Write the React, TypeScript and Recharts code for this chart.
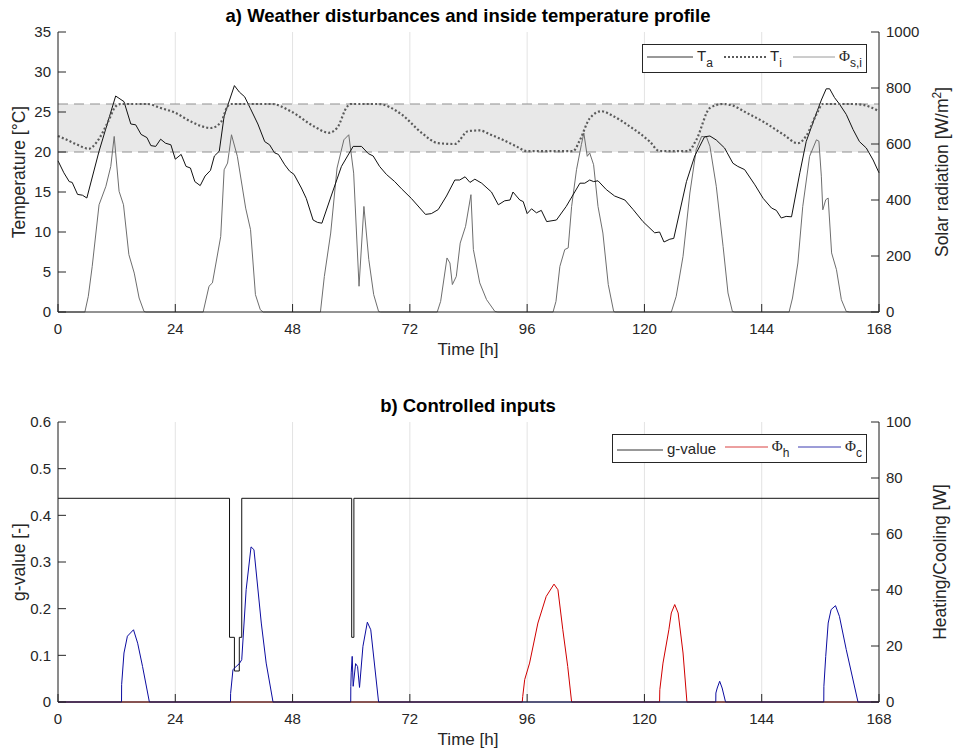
import React from "react";
import { ComposedChart, Line, XAxis, YAxis, CartesianGrid, ReferenceArea, ReferenceLine } from "recharts";

// time axis
const hourTicks = [0, 24, 48, 72, 96, 120, 144, 168];

// a) ambient temperature T_a
const taHours = [0, 1.2, 2.3, 2.9, 4, 5, 5.9, 8.4, 11.8, 13.5, 14.9, 15.9, 17, 18.2, 19, 20, 21, 22, 23.1, 24, 25.2, 26.2, 27.1, 28, 29.1, 30.1, 31.2, 32, 33, 34, 36.1, 37.1, 38.2, 39.4, 40.9, 42.3, 43.3, 44.3, 45.1, 46.4, 47.4, 48.3, 49.8, 50.8, 52.2, 53.1, 54, 55.9, 58, 60.4, 62.1, 63.5, 64.5, 65.8, 67.2, 68.9, 70.3, 72.3, 75.2, 76.4, 77.8, 79.5, 81.2, 82.2, 83.3, 84.3, 85.3, 86.7, 88.7, 90.1, 91.4, 92.5, 93.1, 94.5, 95.2, 96, 96.9, 97.9, 98.9, 100, 102, 104, 106.8, 107.8, 108.8, 109.6, 110.5, 112.2, 113.9, 116, 117.7, 119.7, 122.1, 123.1, 124, 125.2, 126, 128.6, 130.3, 132.3, 133.4, 134.7, 136.4, 138.1, 139.1, 140.5, 142.6, 144.3, 146, 147, 148, 149, 150.1, 151.8, 153.1, 154.8, 156.2, 157.2, 157.9, 158.9, 159.9, 161.3, 162.7, 164, 165.4, 166.8, 168];
const taTemp = [18.9, 17.4, 16.3, 16.2, 14.7, 14.6, 14.25, 20.1, 27.0, 26.3, 23.5, 23.4, 22.2, 21.8, 20.8, 20.7, 21.6, 21.1, 20.9, 19.1, 19.7, 18.2, 18.0, 16.3, 15.8, 17.0, 17.7, 19.5, 20.1, 24.5, 28.3, 27.5, 26.9, 25.4, 23.5, 21.3, 20.9, 19.9, 19.7, 18.4, 17.6, 17.2, 15.5, 14.2, 11.5, 11.2, 11.1, 14.5, 18.2, 20.7, 20.7, 19.8, 19.5, 18.2, 17.2, 16.3, 15.4, 14.2, 12.2, 12.3, 12.8, 14.5, 16.5, 16.5, 16.9, 16.2, 16.6, 16.1, 15.0, 13.4, 13.9, 14.0, 15.0, 14.0, 13.8, 12.3, 12.9, 12.4, 12.7, 11.3, 11.5, 13.2, 16.1, 16.1, 16.5, 16.3, 16.4, 15.3, 14.5, 14.0, 12.8, 11.3, 9.9, 10.0, 8.75, 9.1, 9.2, 16.3, 19.5, 21.9, 22.0, 21.5, 20.5, 18.6, 18.2, 17.8, 15.9, 14.2, 13.0, 12.7, 11.75, 11.95, 11.9, 17.4, 21.3, 24.2, 26.5, 27.9, 27.9, 26.8, 26.0, 24.7, 22.8, 21.3, 20.5, 19.0, 17.4];

// inside temperature T_i
const tiHours = [0, 1.9, 4, 6.3, 8, 10.1, 11.8, 12.8, 18.3, 21, 24, 27.2, 31.3, 33.4, 34.7, 35.4, 43.8, 47.6, 52.4, 55.4, 57.1, 59.2, 59.9, 65.5, 70.3, 74.4, 77.8, 81.2, 83.9, 86.3, 88.4, 91.1, 93.8, 96, 105.4, 106.8, 108.8, 111.2, 113.6, 117, 121.1, 123.1, 128.9, 130.6, 133.4, 136.1, 138.1, 140.9, 144.3, 148.4, 151.4, 153.1, 155.2, 156.5, 162.7, 164.7, 168];
const tiTemp = [22.0, 21.5, 20.9, 20.4, 21.3, 23.6, 25.7, 26, 26, 25.5, 24.9, 23.8, 23.0, 23.8, 25.7, 26, 26, 25.1, 23.2, 22.4, 23.0, 25.7, 26, 26, 24.7, 22.4, 21.1, 21.0, 22.6, 22.7, 22.2, 21.5, 20.7, 20.1, 20.1, 21.5, 24.2, 25.1, 24.5, 23.2, 21.3, 20.1, 20.1, 21.5, 25.5, 26, 25.8, 24.9, 23.8, 22.2, 21.1, 22.0, 24.7, 26, 26, 25.9, 25.1];

// solar radiation Phi_s,i [W/m2]
const solarHours = [0, 5.5, 6.2, 7, 8.4, 9.8, 10.8, 11.5, 12.5, 13.4, 14.5, 15.6, 16.6, 17.6, 18, 29.7, 30.9, 31.6, 33.3, 34, 34.7, 35.5, 36.7, 38.4, 39.4, 40.4, 41.4, 42, 53.7, 54.5, 55.8, 57.1, 58.5, 59.5, 60.5, 61.6, 62.6, 63.6, 64.6, 65.6, 66, 77.6, 78.3, 79.6, 80.2, 80.7, 81.5, 82.3, 83.4, 84.5, 85, 86.3, 87.7, 89.4, 90, 101.3, 101.9, 102.7, 103.7, 104.4, 105.1, 106.1, 107.1, 107.6, 108.3, 108.8, 109.6, 110.5, 111.5, 112.6, 113.7, 114, 125.5, 126.5, 127.9, 129.3, 130.6, 131.7, 132.7, 133.4, 134.7, 136.1, 137.1, 138, 138.5, 149.6, 150.3, 151.4, 152.4, 153.8, 155.2, 155.7, 156.2, 156.5, 157.1, 157.6, 158.3, 159.3, 160.3, 161.3, 162, 168];
const solarRad = [0, 0, 56, 163, 383, 449, 520, 627, 431, 383, 205, 139, 50, 2, 0, 0, 92, 104, 270, 508, 532, 633, 556, 371, 294, 62, 8, 0, 0, 127, 282, 514, 615, 633, 496, 92, 377, 187, 62, 2, 0, 0, 38, 193, 175, 98, 127, 246, 306, 419, 223, 104, 44, 2, 0, 0, 38, 163, 223, 229, 377, 508, 598, 639, 556, 568, 526, 377, 282, 98, 2, 0, 0, 56, 199, 425, 580, 627, 625, 592, 449, 234, 68, 2, 0, 0, 50, 175, 377, 556, 615, 610, 485, 365, 401, 407, 211, 151, 44, 2, 0, 0];

// b) g-value (step)
const gHours = [0, 35.1, 36.1, 37.1, 37.6, 60.1, 60.55, 168];
const gValue = [0.4365, 0.1386, 0.0664, 0.1386, 0.4365, 0.1386, 0.4365, 0.4365];

// heating Phi_h [W]
const heatHours = [0, 95, 95.1, 95.5, 96.5, 98.2, 99.9, 101.5, 102.3, 103.3, 104.3, 105.1, 123.1, 123.15, 123.8, 125, 125.5, 126.2, 126.9, 127.9, 128.7, 168];
const heatPower = [0, 0, 2, 8, 13.9, 28.2, 37.7, 42.1, 40.1, 25.8, 12.7, 0, 0, 4.4, 13.9, 25.8, 31.8, 34.8, 31.8, 17.5, 0, 0];

// cooling Phi_c [W]
const coolHours = [0, 13, 13.02, 13.5, 14.2, 15.45, 16.3, 17.3, 18.7, 35.3, 35.32, 35.8, 36.1, 37.1, 37.6, 38.5, 39.5, 40.1, 41.6, 42.6, 44, 59.9, 59.92, 60, 60.2, 60.4, 60.9, 61.3, 61.7, 62.4, 63.3, 64, 65.6, 134.6, 134.62, 134.9, 135.4, 135.9, 136.6, 156.7, 156.72, 157.1, 157.6, 158.2, 159.1, 159.9, 161.3, 163.7, 168];
const coolPower = [0, 0, 6.2, 17.5, 23.5, 25.8, 21, 12.7, 0, 0, 3, 11.5, 12.1, 13.7, 15.1, 40.1, 55.4, 54.4, 28.2, 13.9, 0, 0, 5.6, 10.4, 16.3, 5.6, 13.7, 12.7, 5.2, 19.9, 28.5, 25.8, 0, 0, 3.2, 5, 7.4, 5, 0, 0, 5.6, 16.3, 28.2, 33, 34.4, 30.6, 18.7, 0, 0];

const zip = (hs: number[], vs: number[]) => hs.map((h, i) => ({ h, v: vs[i] }));

const FONT = '"Liberation Sans", Arial, Helvetica, sans-serif';
const INK = "#262626";
const tickStyle = { fontSize: 15, fill: INK, fontFamily: FONT };
const noTick = () => <g />;

function Label({ x, y, text, rotate, bold, size = 17.5 }: { x: number; y: number; text: React.ReactNode; rotate?: boolean; bold?: boolean; size?: number }) {
  return (
    <div
      style={{
        position: "absolute",
        left: x,
        top: y,
        transform: `translate(-50%, -50%)${rotate ? " rotate(-90deg)" : ""}`,
        whiteSpace: "nowrap",
        fontFamily: FONT,
        fontSize: size,
        fontWeight: bold ? 700 : 400,
        color: bold ? "#000" : INK,
        lineHeight: 1,
      }}
    >
      {text}
    </div>
  );
}

function Sample({ color, dotted, width = 46 }: { color: string; dotted?: boolean; width?: number }) {
  return (
    <svg width={width} height={6} style={{ verticalAlign: "middle", marginRight: 4 }}>
      <line
        x1={0}
        x2={width}
        y1={3}
        y2={3}
        stroke={color}
        strokeWidth={dotted ? 2 : 1}
        strokeDasharray={dotted ? "2 2" : undefined}
      />
    </svg>
  );
}

const phi = <span style={{ fontFamily: '"Liberation Serif", serif' }}>Φ</span>;

function LegendBox({ left, top, width, children }: { left: number; top: number; width: number; children: React.ReactNode }) {
  return (
    <div
      style={{
        position: "absolute",
        left,
        top,
        width,
        height: 29,
        boxSizing: "border-box",
        border: `1px solid ${INK}`,
        background: "#fff",
        display: "flex",
        alignItems: "center",
        justifyContent: "space-between",
        padding: "0 4px 0 4px",
        fontFamily: FONT,
        fontSize: 15,
        color: INK,
      }}
    >
      {children}
    </div>
  );
}

const sub = (s: string) => <sub style={{ fontSize: 12, verticalAlign: "-6px" }}>{s}</sub>;

const axisCommon = {
  stroke: INK,
  tickSize: -8,
  tick: tickStyle,
  interval: 0 as const,
};

function TopChart() {
  return (
    <ComposedChart width={953} height={390} margin={{ top: 32, right: 0, bottom: 38, left: 0 }}>
      <CartesianGrid xAxisId="b" yAxisId="t" horizontal={false} stroke="#e3e3e3" />
      <ReferenceArea xAxisId="b" yAxisId="t" y1={20} y2={26} fill="#e8e8e8" fillOpacity={1} stroke="none" />
      <ReferenceLine xAxisId="b" yAxisId="t" y={20} stroke="#8f8f8f" strokeDasharray="10 6" />
      <ReferenceLine xAxisId="b" yAxisId="t" y={26} stroke="#8f8f8f" strokeDasharray="10 6" />
      <XAxis xAxisId="b" dataKey="h" type="number" domain={[0, 168]} ticks={hourTicks} height={40} tickMargin={19} {...axisCommon} />
      <XAxis xAxisId="top" orientation="top" dataKey="h" type="number" domain={[0, 168]} ticks={hourTicks} height={0} {...axisCommon} tick={noTick} />
      <YAxis yAxisId="t" domain={[0, 35]} ticks={[0, 5, 10, 15, 20, 25, 30, 35]} width={58} tickMargin={15} {...axisCommon} />
      <YAxis yAxisId="s" orientation="right" domain={[0, 1000]} ticks={[0, 200, 400, 600, 800, 1000]} width={74} tickMargin={15} {...axisCommon} />
      <Line xAxisId="b" yAxisId="s" data={zip(solarHours, solarRad)} dataKey="v" type="linear" stroke="#6e6e6e" strokeWidth={1} dot={false} isAnimationActive={false} />
      <Line xAxisId="b" yAxisId="t" data={zip(taHours, taTemp)} dataKey="v" type="linear" stroke="#111" strokeWidth={1} dot={false} isAnimationActive={false} />
      <Line xAxisId="b" yAxisId="t" data={zip(tiHours, tiTemp)} dataKey="v" type="monotone" stroke="#5a5a5a" strokeWidth={2.2} strokeDasharray="2 2.2" dot={false} isAnimationActive={false} />
    </ComposedChart>
  );
}

function BottomChart() {
  return (
    <ComposedChart width={953} height={363} margin={{ top: 32, right: 0, bottom: 11, left: 0 }}>
      <CartesianGrid xAxisId="b" yAxisId="g" horizontal={false} stroke="#e3e3e3" />
      <XAxis xAxisId="b" dataKey="h" type="number" domain={[0, 168]} ticks={hourTicks} height={40} tickMargin={19} {...axisCommon} />
      <XAxis xAxisId="top" orientation="top" dataKey="h" type="number" domain={[0, 168]} ticks={hourTicks} height={0} {...axisCommon} tick={noTick} />
      <YAxis yAxisId="g" domain={[0, 0.6]} ticks={[0, 0.1, 0.2, 0.3, 0.4, 0.5, 0.6]} width={58} tickMargin={15} {...axisCommon} />
      <YAxis yAxisId="p" orientation="right" domain={[0, 100]} ticks={[0, 20, 40, 60, 80, 100]} width={74} tickMargin={15} {...axisCommon} />
      <Line xAxisId="b" yAxisId="g" data={zip(gHours, gValue)} dataKey="v" type="stepAfter" stroke="#111" strokeWidth={1} dot={false} isAnimationActive={false} />
      <Line xAxisId="b" yAxisId="p" data={zip(heatHours, heatPower)} dataKey="v" type="linear" stroke="#d00000" strokeWidth={1} dot={false} isAnimationActive={false} />
      <Line xAxisId="b" yAxisId="p" data={zip(coolHours, coolPower)} dataKey="v" type="linear" stroke="#0c0ca0" strokeWidth={1} dot={false} isAnimationActive={false} />
    </ComposedChart>
  );
}

export default function App() {
  return (
    <div style={{ position: "absolute", left: 0, top: 0, width: 953, height: 753, overflow: "hidden", background: "#fff" }}>
      <div style={{ position: "absolute", left: 0, top: 0 }}>
        <TopChart />
      </div>
      <div style={{ position: "absolute", left: 0, top: 390 }}>
        <BottomChart />
      </div>

      <Label x={468} y={16} text="a) Weather disturbances and inside temperature profile" bold size={18.5} />
      <Label x={20} y={172} text="Temperature [°C]" rotate />
      <Label x={941} y={172} text={<span>Solar radiation [W/m<sup style={{ fontSize: 12, verticalAlign: "7px" }}>2</sup>]</span>} rotate />
      <Label x={468} y={349} text="Time [h]" size={17} />

      <Label x={468} y={406} text="b) Controlled inputs" bold size={18.5} />
      <Label x={20} y={562} text="g-value [-]" rotate />
      <Label x={941} y={562} text="Heating/Cooling [W]" rotate />
      <Label x={468} y={739} text="Time [h]" size={17} />

      <LegendBox left={642} top={44} width={225}>
        <span><Sample color="#333" />T{sub("a")}</span>
        <span><Sample color="#5a5a5a" dotted width={42} />T{sub("i")}</span>
        <span><Sample color="#9a9a9a" width={42} />{phi}{sub("s,i")}</span>
      </LegendBox>
      <LegendBox left={612} top={434} width={255}>
        <span><Sample color="#333" />g-value</span>
        <span><Sample color="#d94040" width={43} />{phi}{sub("h")}</span>
        <span><Sample color="#3a3ab0" width={43} />{phi}{sub("c")}</span>
      </LegendBox>
    </div>
  );
}
